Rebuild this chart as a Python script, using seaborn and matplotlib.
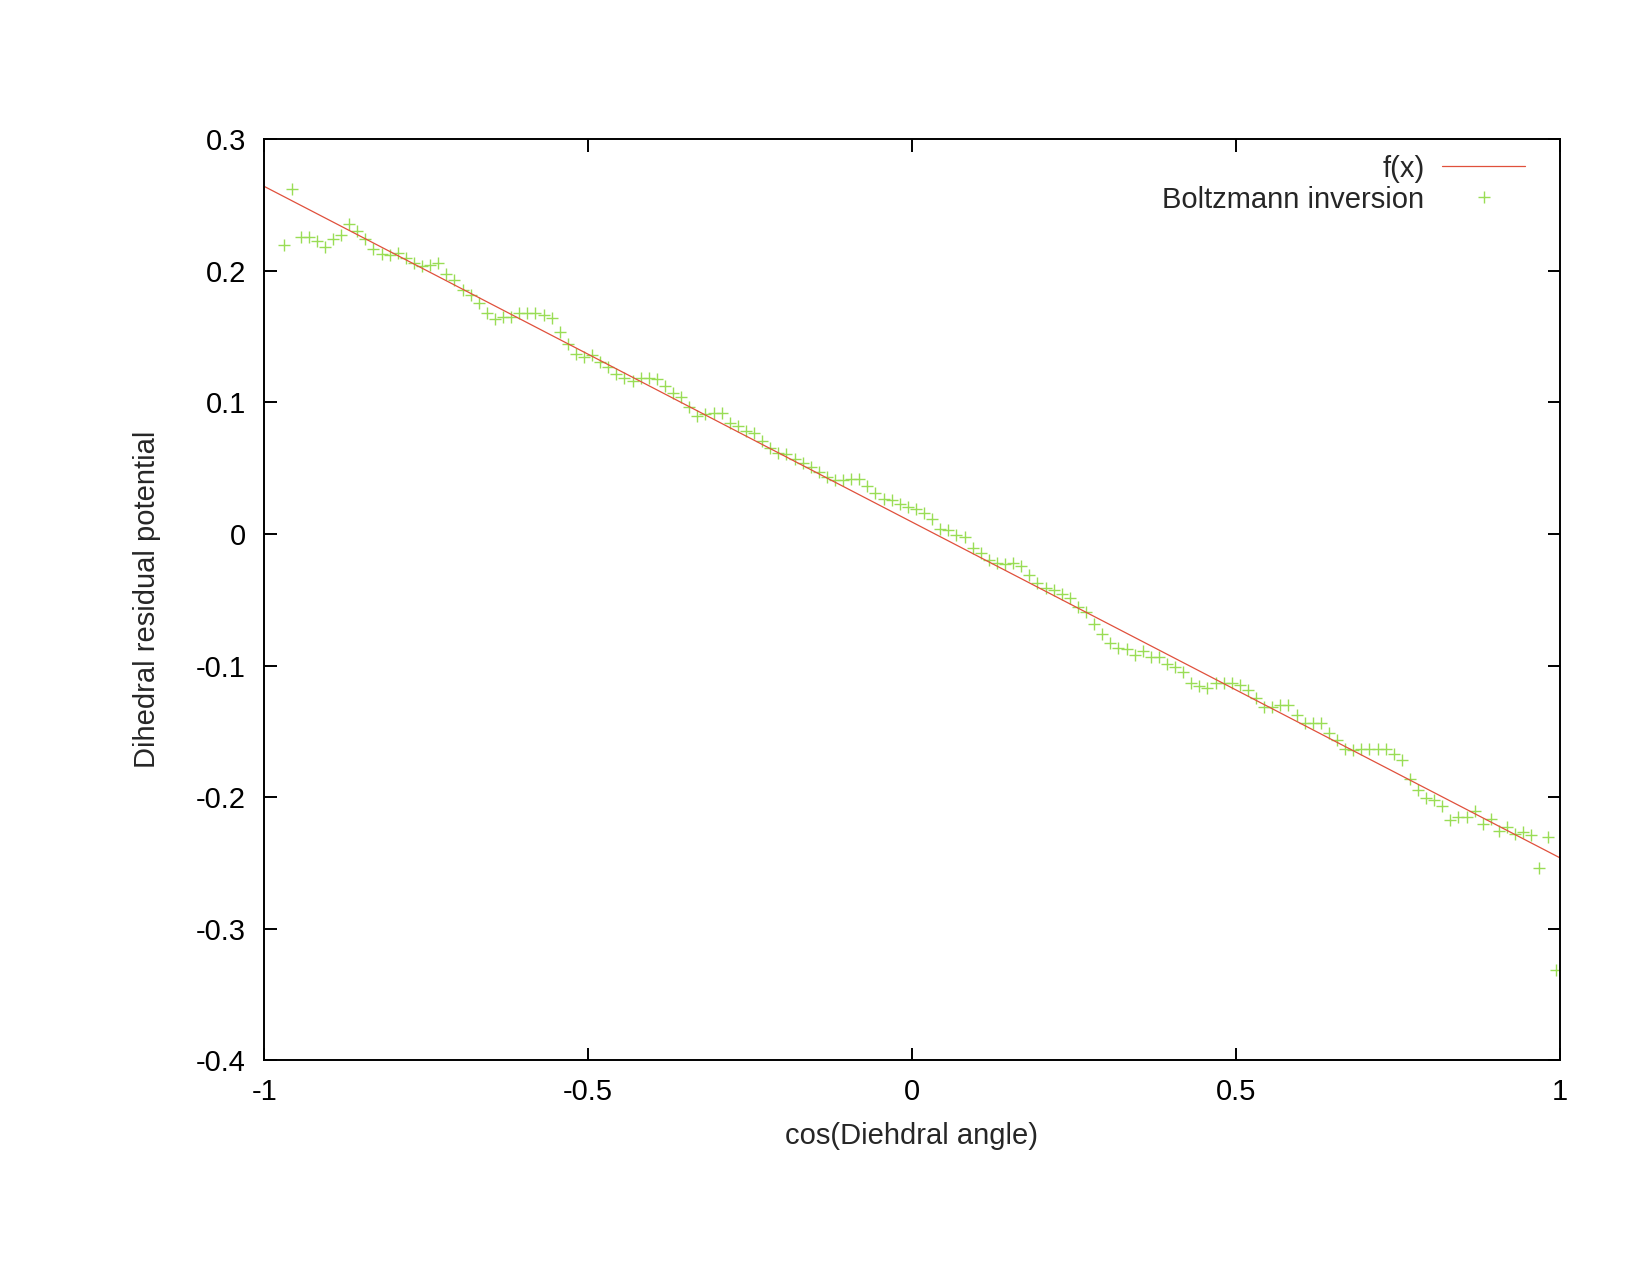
import matplotlib
matplotlib.use('Agg')
import matplotlib.pyplot as plt
import seaborn as sns
from matplotlib.ticker import FuncFormatter

# bin centres of cos(dihedral) and the Boltzmann-inverted potential
cos_x = [
    -0.96875, -0.95625, -0.94375, -0.93125, -0.91875, -0.90625, -0.89375, -0.88125,
    -0.86875, -0.85625, -0.84375, -0.83125, -0.81875, -0.80625, -0.79375, -0.78125,
    -0.76875, -0.75625, -0.74375, -0.73125, -0.71875, -0.70625, -0.69375, -0.68125,
    -0.66875, -0.65625, -0.64375, -0.63125, -0.61875, -0.60625, -0.59375, -0.58125,
    -0.56875, -0.55625, -0.54375, -0.53125, -0.51875, -0.50625, -0.49375, -0.48125,
    -0.46875, -0.45625, -0.44375, -0.43125, -0.41875, -0.40625, -0.39375, -0.38125,
    -0.36875, -0.35625, -0.34375, -0.33125, -0.31875, -0.30625, -0.29375, -0.28125,
    -0.26875, -0.25625, -0.24375, -0.23125, -0.21875, -0.20625, -0.19375, -0.18125,
    -0.16875, -0.15625, -0.14375, -0.13125, -0.11875, -0.10625, -0.09375, -0.08125,
    -0.06875, -0.05625, -0.04375, -0.03125, -0.01875, -0.00625, 0.00625, 0.01875,
    0.03125, 0.04375, 0.05625, 0.06875, 0.08125, 0.09375, 0.10625, 0.11875,
    0.13125, 0.14375, 0.15625, 0.16875, 0.18125, 0.19375, 0.20625, 0.21875,
    0.23125, 0.24375, 0.25625, 0.26875, 0.28125, 0.29375, 0.30625, 0.31875,
    0.33125, 0.34375, 0.35625, 0.36875, 0.38125, 0.39375, 0.40625, 0.41875,
    0.43125, 0.44375, 0.45625, 0.46875, 0.48125, 0.49375, 0.50625, 0.51875,
    0.53125, 0.54375, 0.55625, 0.56875, 0.58125, 0.59375, 0.60625, 0.61875,
    0.63125, 0.64375, 0.65625, 0.66875, 0.68125, 0.69375, 0.70625, 0.71875,
    0.73125, 0.74375, 0.75625, 0.76875, 0.78125, 0.79375, 0.80625, 0.81875,
    0.83125, 0.84375, 0.85625, 0.86875, 0.88125, 0.89375, 0.90625, 0.91875,
    0.93125, 0.94375, 0.95625, 0.96875, 0.98125, 0.99375,
]
potential = [
    0.2197, 0.2617, 0.2258, 0.2258, 0.2228, 0.2182, 0.2238, 0.2268,
    0.2354, 0.2301, 0.2238, 0.2167, 0.2126, 0.2119, 0.2131, 0.2099,
    0.2061, 0.2035, 0.2040, 0.2061, 0.1975, 0.1929, 0.1853, 0.1815,
    0.1752, 0.1681, 0.1631, 0.1651, 0.1651, 0.1681, 0.1681, 0.1681,
    0.1663, 0.1638, 0.1533, 0.1440, 0.1370, 0.1342, 0.1356, 0.1309,
    0.1271, 0.1215, 0.1183, 0.1165, 0.1183, 0.1183, 0.1175, 0.1124,
    0.1074, 0.1043, 0.0963, 0.0892, 0.0912, 0.0917, 0.0922, 0.0846,
    0.0816, 0.0778, 0.0765, 0.0702, 0.0651, 0.0618, 0.0608, 0.0568,
    0.0537, 0.0507, 0.0467, 0.0431, 0.0406, 0.0406, 0.0416, 0.0416,
    0.0360, 0.0307, 0.0263, 0.0258, 0.0228, 0.0202, 0.0187, 0.0157,
    0.0111, 0.0035, 0.0030, -0.0008, -0.0026, -0.0109, -0.0147, -0.0198,
    -0.0218, -0.0228, -0.0218, -0.0243, -0.0312, -0.0370, -0.0413, -0.0425,
    -0.0456, -0.0489, -0.0557, -0.0590, -0.0685, -0.0761, -0.0826, -0.0869,
    -0.0876, -0.0919, -0.0887, -0.0932, -0.0935, -0.0985, -0.1008, -0.1052,
    -0.1130, -0.1155, -0.1173, -0.1130, -0.1130, -0.1130, -0.1147, -0.1185,
    -0.1249, -0.1317, -0.1317, -0.1299, -0.1299, -0.1375, -0.1433, -0.1438,
    -0.1438, -0.1509, -0.1565, -0.1636, -0.1641, -0.1636, -0.1636, -0.1636,
    -0.1632, -0.1671, -0.1717, -0.1860, -0.1947, -0.2005, -0.2020, -0.2067,
    -0.2173, -0.2153, -0.2153, -0.2102, -0.2203, -0.2168, -0.2254, -0.2229,
    -0.2279, -0.2262, -0.2287, -0.2540, -0.2305, -0.3312,
]

# fitted straight line f(x)
fit_x = [-1.0, 1.0]
fit_y = [0.264, -0.246]

x_ticks = [-1, -0.5, 0, 0.5, 1]
y_ticks = [-0.4, -0.3, -0.2, -0.1, 0, 0.1, 0.2, 0.3]

sns.set_style('ticks')
plt.rcParams['font.family'] = ['Liberation Sans', 'DejaVu Sans']
plt.rcParams['axes.unicode_minus'] = False

fig = plt.figure(figsize=(16.51, 12.75), dpi=100)
ax = fig.add_axes([0.16, 0.1683, 0.7847, 0.7227])

sns.lineplot(x=fit_x, y=fit_y, ax=ax, color='#e0503c', linewidth=0.9, label='f(x)')
sns.scatterplot(x=cos_x, y=potential, ax=ax, marker='+', s=85, color='#99dd55',
                linewidth=1.0, label='Boltzmann inversion')

ax.set_xlim(-1, 1)
ax.set_ylim(-0.4, 0.3)
ax.set_xticks(x_ticks)
ax.set_yticks(y_ticks)
fmt = FuncFormatter(lambda v, _: '0' if abs(v) < 1e-9 else f'{round(v, 2):g}')
ax.xaxis.set_major_formatter(fmt)
ax.yaxis.set_major_formatter(fmt)

ax.tick_params(direction='in', length=9, width=1.4, top=True, right=True,
               labelsize=21, colors='black')
ax.tick_params(axis='x', pad=13)
ax.tick_params(axis='y', pad=13)
for sp in ax.spines.values():
    sp.set_visible(True)
    sp.set_color('black')
    sp.set_linewidth(1.4)

ax.set_xlabel('cos(Diehdral angle)', fontsize=21, labelpad=11)
ax.set_ylabel('Dihedral residual potential', fontsize=21, labelpad=25)

ax.legend(loc='upper right', bbox_to_anchor=(0.9734, 0.983), frameon=False,
          markerfirst=False, handlelength=2.85, handletextpad=0.6,
          labelspacing=0.1, borderpad=0, borderaxespad=0, fontsize=21,
          scatteryoffsets=[0.5])

fig.savefig('out.png', dpi=100, facecolor='white')
